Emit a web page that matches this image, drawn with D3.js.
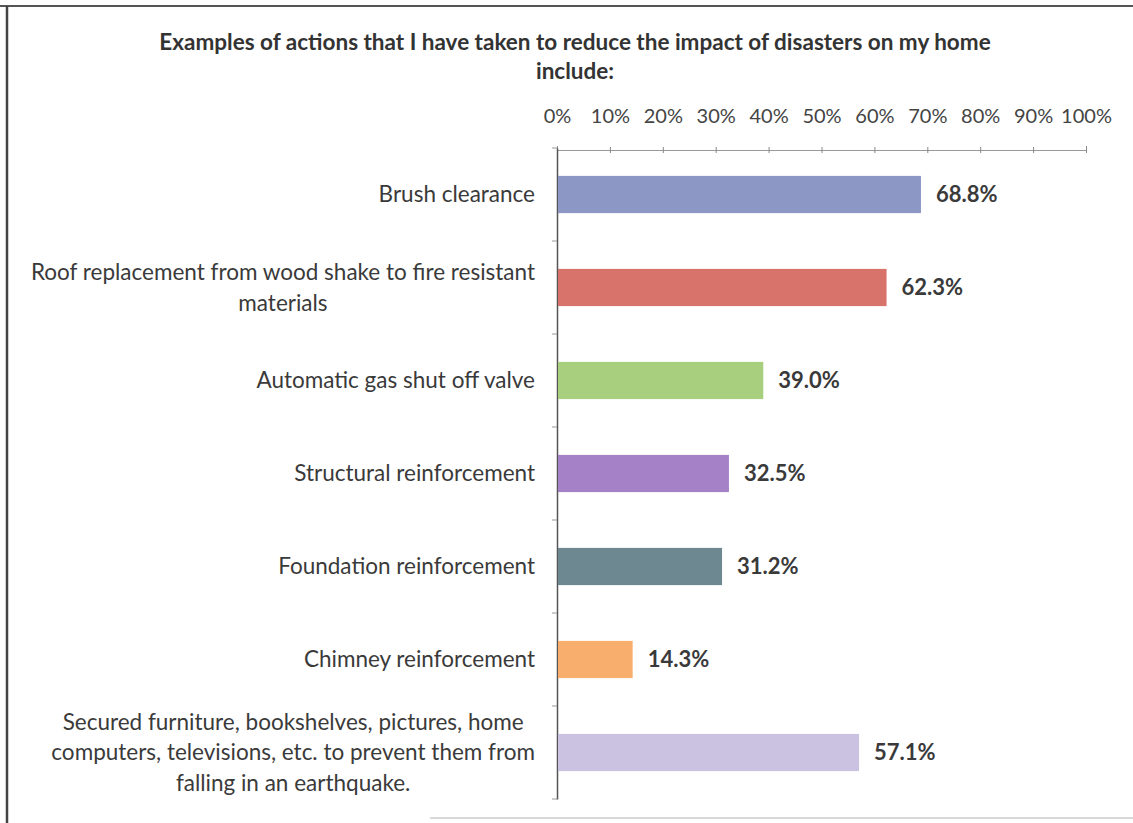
<!DOCTYPE html>
<html><head><meta charset="utf-8">
<script src="https://cdn.jsdelivr.net/npm/d3@7"></script>
<style>body{margin:0;background:#fff;} svg{display:block;}</style>
</head><body>
<script>
const categories = [
  ["Brush clearance"],
  ["Roof replacement from wood shake to fire resistant", "materials"],
  ["Automatic gas shut off valve"],
  ["Structural reinforcement"],
  ["Foundation reinforcement"],
  ["Chimney reinforcement"],
  ["Secured furniture, bookshelves, pictures, home", "computers, televisions, etc. to prevent them from", "falling in an earthquake."]
];
const values = [68.8, 62.3, 39.0, 32.5, 31.2, 14.3, 57.1];
const colors = ["#8c97c6", "#d8736b", "#a7cf7e", "#a581c7", "#6e8891", "#f8ae6c", "#cbc2e2"];
const tickValues = [0,10,20,30,40,50,60,70,80,90,100];
const titleLines = ["Examples of actions that I have taken to reduce the impact of disasters on my home", "include:"];

const W = 1133, H = 823;
const svg = d3.select("body").append("svg").attr("width", W).attr("height", H);
const font = "Lato, 'Open Sans', sans-serif";

// frame
svg.append("line").attr("x1",0).attr("x2",W).attr("y1",6).attr("y2",6).attr("stroke","#555").attr("stroke-width",2);
svg.append("line").attr("x1",7).attr("x2",7).attr("y1",6).attr("y2",H).attr("stroke","#444").attr("stroke-width",2.5);
svg.append("line").attr("x1",430).attr("x2",W).attr("y1",818).attr("y2",818).attr("stroke","#ccc").attr("stroke-width",1.5);

// title
svg.append("text").attr("x",575).attr("y",50).attr("text-anchor","middle")
  .attr("font-family",font).attr("font-weight","bold").attr("font-size",22.5).attr("fill","#333")
  .selectAll("tspan").data(titleLines).join("tspan").attr("x",575).attr("dy",(d,i)=>i?29:0).text(d=>d);

const x = d3.scaleLinear().domain([0,100]).range([557,1086]);
const y = d3.scaleBand().domain(d3.range(categories.length)).range([148,799]).paddingInner(0.6).paddingOuter(0.3);
const yb = d3.scaleBand().domain(d3.range(categories.length)).range([148,799]);

// top axis
const ax = svg.append("g").attr("transform","translate(0,150)")
  .call(d3.axisTop(x).tickValues(tickValues).tickFormat(d=>d+"%").tickSize(4).tickPadding(23));
ax.select(".domain").attr("stroke","#999");
ax.selectAll(".tick line").attr("stroke","#888").attr("y2",-3).attr("y1",3);
ax.selectAll("text").attr("font-family",font).attr("font-size",20).attr("fill","#444");

// left axis
const ay = svg.append("g").attr("transform","translate(557,0)")
  .call(d3.axisLeft(yb).tickValues([]).tickSize(0));
ay.select(".domain").attr("stroke","#555").attr("stroke-width",1.5);
svg.append("g").selectAll("line").data(d3.range(categories.length+1)).join("line")
  .attr("x1",552).attr("x2",557)
  .attr("y1",d=>d<categories.length?yb(d):yb.range()[1]).attr("y2",d=>d<categories.length?yb(d):yb.range()[1])
  .attr("stroke","#999");

// bars
svg.append("g").selectAll("rect").data(values).join("rect")
  .attr("x",x(0)+1).attr("y",(d,i)=>y(i)).attr("width",d=>x(d)-x(0)-1).attr("height",y.bandwidth())
  .attr("fill",(d,i)=>colors[i]);

// value labels
svg.append("g").selectAll("text").data(values).join("text")
  .attr("x",d=>x(d)+15).attr("y",(d,i)=>y(i)+y.bandwidth()/2).attr("dy","0.35em")
  .attr("font-family",font).attr("font-weight","bold").attr("font-size",22).attr("fill","#3a3a3a")
  .text(d=>d.toFixed(1)+"%");

// category labels
const lh = 30.5;
const cg = svg.append("g");
categories.forEach((lines,i)=>{
  const cy = yb(i)+yb.bandwidth()/2;
  const t = cg.append("text").attr("font-family",font).attr("font-size",22.5).attr("fill","#3a3a3a")
    .attr("text-anchor","middle");
  const spans = t.selectAll("tspan").data(lines).join("tspan")
    .attr("y",(d,k)=>cy + (k-(lines.length-1)/2)*lh).attr("dy","0.35em").text(d=>d);
  let maxW = 0;
  spans.each(function(){maxW=Math.max(maxW,this.getComputedTextLength());});
  spans.attr("x",535-maxW/2);
});
</script>
</body></html>
